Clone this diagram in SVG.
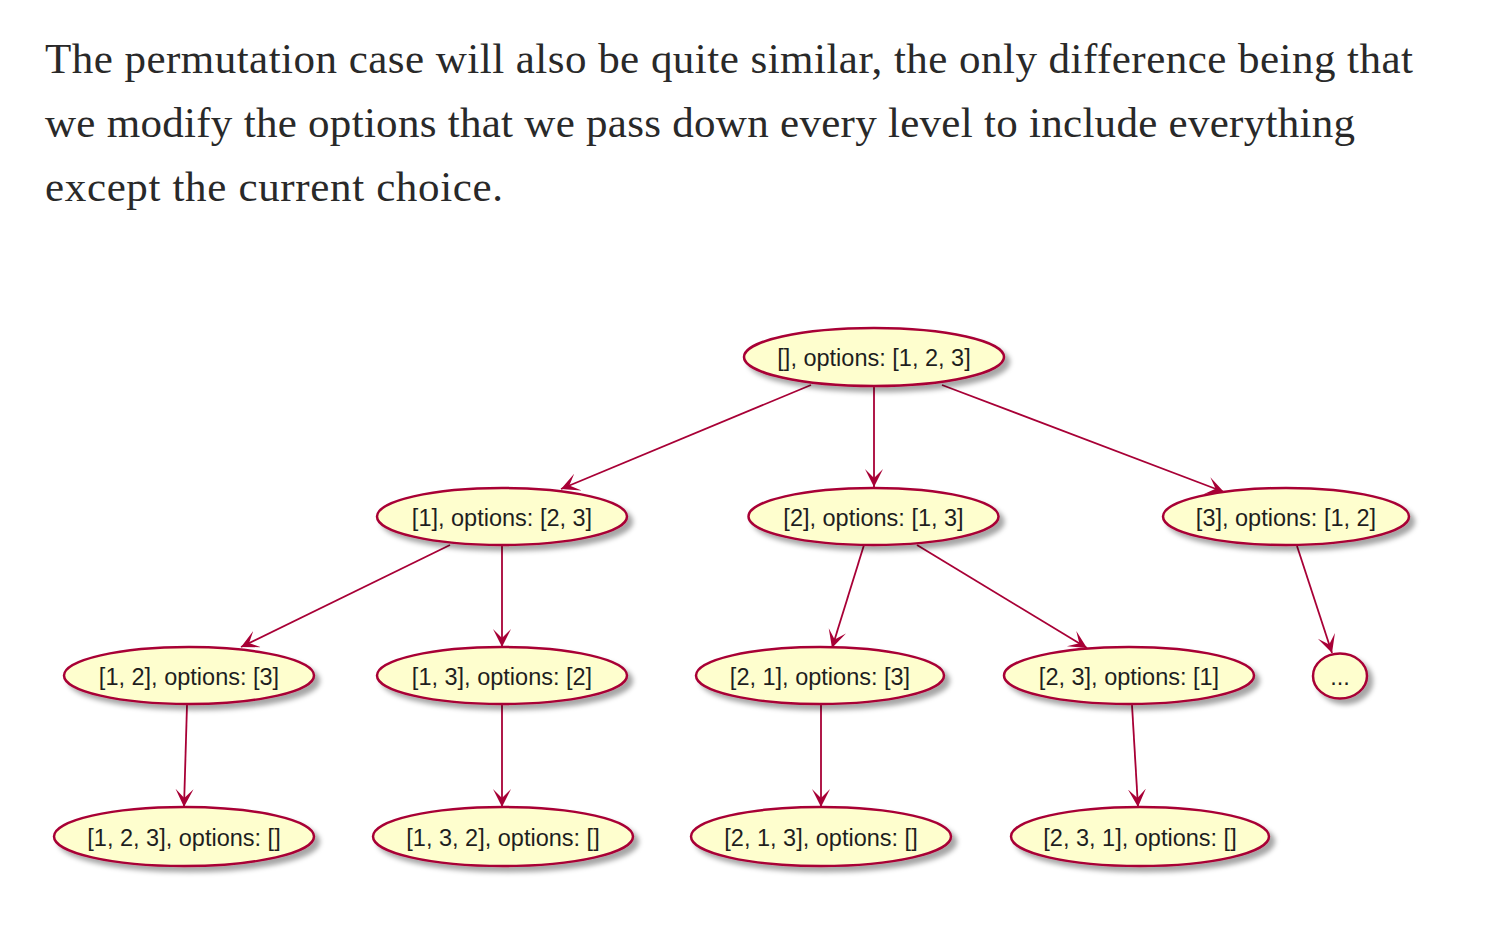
<svg xmlns="http://www.w3.org/2000/svg" width="1494" height="930" viewBox="0 0 1494 930">
<style>
.para{font-family:"Liberation Serif","DejaVu Serif",serif;font-size:43px;fill:#292929}
.node ellipse{fill:#FEFECE;stroke:#A80036;stroke-width:2.5;filter:url(#sh)}
.node text{font-family:"Liberation Sans",Arial,sans-serif;font-size:23.5px;fill:#1e1e1e;text-anchor:middle}
#edges line{stroke:#A80036;stroke-width:1.8;marker-end:url(#ah)}
</style>
<defs>
<filter id="sh" x="-20%" y="-40%" width="150%" height="200%">
<feDropShadow dx="5" dy="5" stdDeviation="2.5" flood-color="#000" flood-opacity="0.35"/>
</filter>
<marker id="ah" markerUnits="userSpaceOnUse" markerWidth="20" markerHeight="20" refX="18" refY="9" orient="auto">
<path d="M18,9 L0,0 L9,9 L0,18 Z" fill="#A80036"/>
</marker>
</defs>
<rect width="1494" height="930" fill="#fff"/>
<text class="para" x="45" y="73" textLength="1368" lengthAdjust="spacing">The permutation case will also be quite similar, the only difference being that</text>
<text class="para" x="45" y="137" textLength="1310" lengthAdjust="spacing">we modify the options that we pass down every level to include everything</text>
<text class="para" x="45" y="201" textLength="458" lengthAdjust="spacing">except the current choice.</text>

<g id="edges">
<line x1="811" y1="385" x2="561" y2="489"/>
<line x1="874" y1="386" x2="874" y2="487"/>
<line x1="942" y1="385" x2="1224" y2="492"/>
<line x1="450" y1="545" x2="241" y2="647"/>
<line x1="502" y1="545" x2="502" y2="647"/>
<line x1="864" y1="545" x2="832" y2="648"/>
<line x1="917" y1="545" x2="1087" y2="648"/>
<line x1="1297" y1="546" x2="1332" y2="653"/>
<line x1="187" y1="705" x2="184" y2="807"/>
<line x1="502" y1="705" x2="502" y2="807"/>
<line x1="821" y1="705" x2="821" y2="807"/>
<line x1="1132" y1="705" x2="1138" y2="807"/>
</g>

<g id="n_root" class="node"><ellipse cx="874" cy="357" rx="130" ry="29"/><text x="874" y="366">[], options: [1, 2, 3]</text></g>
<g id="n_1" class="node"><ellipse cx="502" cy="516.5" rx="125" ry="28.5"/><text x="502" y="526">[1], options: [2, 3]</text></g>
<g id="n_2" class="node"><ellipse cx="873.5" cy="516.5" rx="125" ry="28.5"/><text x="873.5" y="526">[2], options: [1, 3]</text></g>
<g id="n_3" class="node"><ellipse cx="1286" cy="516.5" rx="123" ry="28.5"/><text x="1286" y="526">[3], options: [1, 2]</text></g>
<g id="n_12" class="node"><ellipse cx="189" cy="675.5" rx="125" ry="28.5"/><text x="189" y="685">[1, 2], options: [3]</text></g>
<g id="n_13" class="node"><ellipse cx="502" cy="675.5" rx="125" ry="28.5"/><text x="502" y="685">[1, 3], options: [2]</text></g>
<g id="n_21" class="node"><ellipse cx="820" cy="675.5" rx="124" ry="28.5"/><text x="820" y="685">[2, 1], options: [3]</text></g>
<g id="n_23" class="node"><ellipse cx="1129" cy="675.5" rx="125" ry="28.5"/><text x="1129" y="685">[2, 3], options: [1]</text></g>
<g id="n_more" class="node"><ellipse cx="1340" cy="676" rx="27" ry="22.5"/><text x="1340" y="685">...</text></g>
<g id="n_123" class="node"><ellipse cx="184" cy="836.5" rx="130" ry="29.5"/><text x="184" y="846">[1, 2, 3], options: []</text></g>
<g id="n_132" class="node"><ellipse cx="503" cy="836.5" rx="130" ry="29.5"/><text x="503" y="846">[1, 3, 2], options: []</text></g>
<g id="n_213" class="node"><ellipse cx="821" cy="836.5" rx="130" ry="29.5"/><text x="821" y="846">[2, 1, 3], options: []</text></g>
<g id="n_231" class="node"><ellipse cx="1140" cy="836.5" rx="129" ry="29.5"/><text x="1140" y="846">[2, 3, 1], options: []</text></g>
</svg>
